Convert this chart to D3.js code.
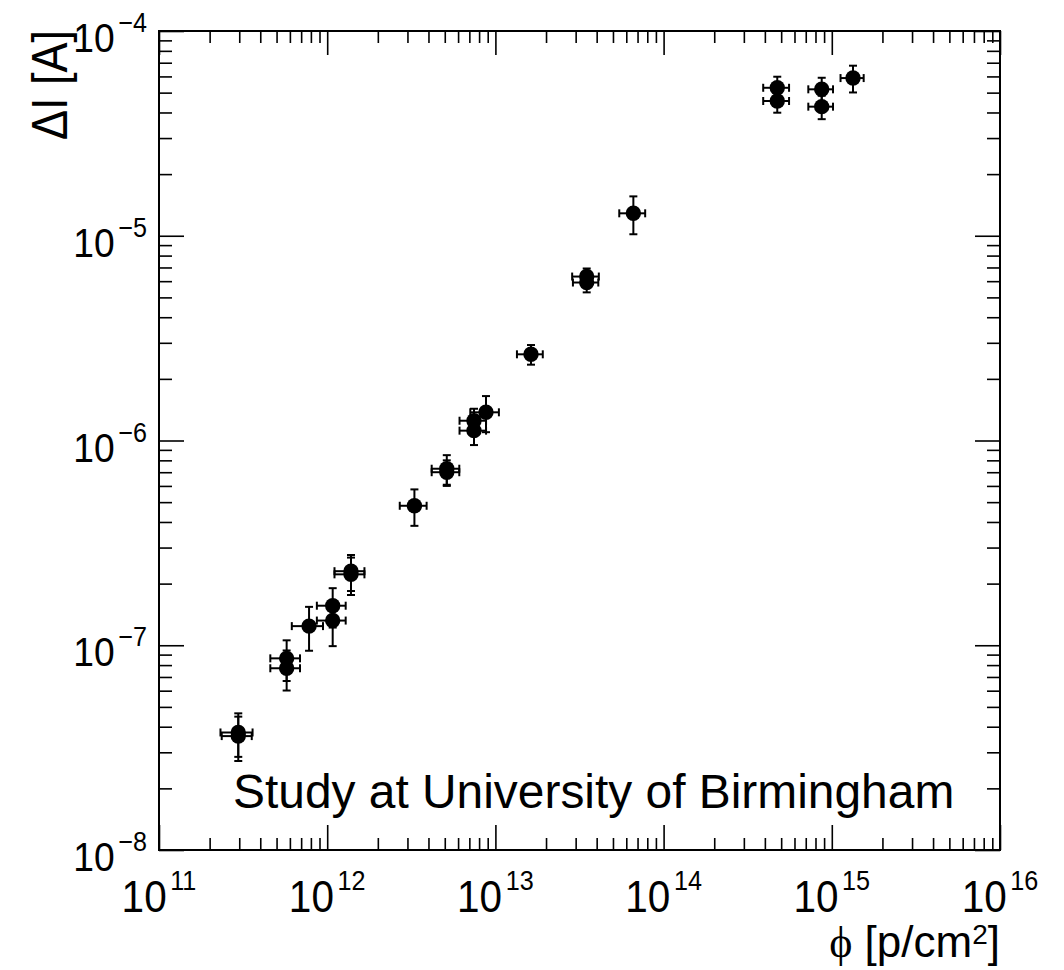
<!DOCTYPE html>
<html>
<head>
<meta charset="utf-8">
<script src="https://cdn.jsdelivr.net/npm/d3@7"></script>
<style>
  body { margin: 0; background: #fff; }
  svg { display: block; }
</style>
</head>
<body>
<svg id="chart" width="1064" height="970"></svg>
<script>
// Leakage current increase vs. proton fluence
const fluence    = [2.96e11, 2.96e11, 5.74e11, 5.74e11, 7.80e11, 1.078e12, 1.078e12, 1.385e12, 1.385e12,
                    3.30e12, 5.14e12, 5.14e12, 7.46e12, 7.46e12, 8.79e12, 1.628e13, 3.49e13, 3.49e13,
                    6.61e13, 4.74e14, 4.74e14, 8.71e14, 8.71e14, 1.337e15];
const fluenceErr = [0.64e11, 0.60e11, 1.15e11, 1.15e11, 1.64e11, 0.21e12, 0.21e12, 0.28e12, 0.28e12,
                    0.60e12, 0.96e12, 0.96e12, 1.34e12, 1.34e12, 1.70e12, 0.285e13, 0.63e13, 0.60e13,
                    1.16e13, 0.83e14, 0.83e14, 1.46e14, 1.46e14, 0.21e15];
const deltaI     = [3.75e-8, 3.60e-8, 8.63e-8, 7.72e-8, 1.24e-7, 1.56e-7, 1.32e-7, 2.30e-7, 2.22e-7,
                    4.80e-7, 7.28e-7, 7.00e-7, 1.249e-6, 1.117e-6, 1.373e-6, 2.636e-6, 6.32e-6, 5.91e-6,
                    1.287e-5, 5.28e-5, 4.55e-5, 5.19e-5, 4.27e-5, 5.89e-5];
const deltaIErr  = [0.90e-8, 0.88e-8, 1.94e-8, 1.71e-8, 0.30e-7, 0.34e-7, 0.33e-7, 0.46e-7, 0.46e-7,
                    0.97e-7, 1.20e-7, 1.00e-7, 0.18e-6, 0.167e-6, 0.275e-6, 0.29e-6, 0.60e-6, 0.62e-6,
                    0.27e-5, 0.70e-5, 0.56e-5, 0.72e-5, 0.56e-5, 0.88e-5];

const xDecades = [11, 12, 13, 14, 15, 16];
const yDecades = [-8, -7, -6, -5, -4];
const xTitle = ["\u03D5", " [p/cm", "2", "]"];
const yTitle = "\u0394I [A]";
const noteText = "Study at University of Birmingham";

const sans = "'Liberation Sans', Arial, Helvetica, sans-serif";
const serif = "'Liberation Serif', 'DejaVu Serif', serif";

const svg = d3.select("#chart");
const x = d3.scaleLog().domain([1e11, 1e16]).range([159, 1000]);
const y = d3.scaleLog().domain([1e-8, 1e-4]).range([850, 31]);

function minorTicks(decades) {
  const out = [];
  for (let i = 0; i < decades.length - 1; i++)
    for (let m = 2; m <= 9; m++) out.push(m * Math.pow(10, decades[i]));
  return out;
}
const xMajor = xDecades.map(e => Math.pow(10, e));
const yMajor = yDecades.map(e => Math.pow(10, e));
const xMinor = minorTicks(xDecades);
const yMinor = minorTicks(yDecades);

function addTicks(axisFn, scale, values, size, transform) {
  svg.append("g")
    .attr("transform", transform)
    .call(axisFn(scale).tickValues(values).tickSize(size).tickFormat(""))
    .call(g => g.select(".domain").remove())
    .call(g => g.selectAll("line").attr("stroke", "#000").attr("stroke-width", 1.6));
}
// ticks on all four sides, pointing inward
addTicks(d3.axisBottom, x, xMajor, -25, "translate(0,850)");
addTicks(d3.axisBottom, x, xMinor, -12, "translate(0,850)");
addTicks(d3.axisTop, x, xMajor, -24, "translate(0,31)");
addTicks(d3.axisTop, x, xMinor, -12, "translate(0,31)");
addTicks(d3.axisLeft, y, yMajor, -25, "translate(159,0)");
addTicks(d3.axisLeft, y, yMinor, -13, "translate(159,0)");
addTicks(d3.axisRight, y, yMajor, -25, "translate(1000,0)");
addTicks(d3.axisRight, y, yMinor, -13, "translate(1000,0)");

// frame
svg.append("rect")
  .attr("x", x.range()[0]).attr("y", y.range()[1])
  .attr("width", x.range()[1] - x.range()[0])
  .attr("height", y.range()[0] - y.range()[1])
  .attr("fill", "none").attr("stroke", "#000").attr("stroke-width", 2);

// y tick labels 10^n
yDecades.forEach(e => {
  const g = svg.append("g")
    .attr("transform", `translate(147,${y(Math.pow(10, e)) + 21}) scale(0.93,1)`);
  const t = g.append("text").attr("text-anchor", "end")
    .attr("font-family", sans).attr("font-size", 40).attr("fill", "#000");
  t.append("tspan").text("10");
  t.append("tspan").attr("font-size", 27).attr("dx", 4).attr("dy", -20)
    .text((e < 0 ? "\u2212" : "") + Math.abs(e));
});

// x tick labels 10^n
xDecades.forEach(e => {
  const g = svg.append("g")
    .attr("transform", `translate(${x(Math.pow(10, e))},912) scale(0.9,1)`);
  const t = g.append("text").attr("text-anchor", "middle")
    .attr("font-family", sans).attr("font-size", 45).attr("fill", "#000");
  t.append("tspan").text("10");
  t.append("tspan").attr("font-size", 28).attr("dx", 4).attr("dy", -22).text(e);
});

// axis titles
const xt = svg.append("text")
  .attr("x", 1000).attr("y", 957).attr("text-anchor", "end")
  .attr("font-family", sans).attr("font-size", 44).attr("fill", "#000");
xt.append("tspan").attr("font-family", serif).text(xTitle[0]);
xt.append("tspan").text(xTitle[1]);
xt.append("tspan").attr("font-size", 28).attr("dy", -13).text(xTitle[2]);
xt.append("tspan").attr("dy", 13).text(xTitle[3]);

svg.append("text")
  .attr("transform", "translate(67,30) rotate(-90)")
  .attr("text-anchor", "end")
  .attr("font-family", sans).attr("font-size", 50).attr("fill", "#000")
  .attr("textLength", 110).attr("lengthAdjust", "spacingAndGlyphs")
  .text(yTitle);

// note inside the frame
svg.append("text")
  .attr("x", 233).attr("y", 808)
  .attr("font-family", sans).attr("font-size", 47.9).attr("fill", "#000")
  .text(noteText);

// data points with error bars
const points = fluence.map((f, i) => ({
  x: f, ex: fluenceErr[i], y: deltaI[i], ey: deltaIErr[i]
}));
const cap = 4;
const pg = svg.append("g").attr("stroke", "#000").attr("stroke-width", 2);
points.forEach(p => {
  const cx = x(p.x), cy = y(p.y);
  const x0 = x(p.x - p.ex), x1 = x(p.x + p.ex);
  const y0 = y(p.y - p.ey), y1 = y(p.y + p.ey);
  pg.append("line").attr("x1", x0).attr("x2", x1).attr("y1", cy).attr("y2", cy);
  pg.append("line").attr("x1", x0).attr("x2", x0).attr("y1", cy - cap).attr("y2", cy + cap);
  pg.append("line").attr("x1", x1).attr("x2", x1).attr("y1", cy - cap).attr("y2", cy + cap);
  pg.append("line").attr("x1", cx).attr("x2", cx).attr("y1", y0).attr("y2", y1);
  pg.append("line").attr("x1", cx - cap).attr("x2", cx + cap).attr("y1", y0).attr("y2", y0);
  pg.append("line").attr("x1", cx - cap).attr("x2", cx + cap).attr("y1", y1).attr("y2", y1);
});
svg.append("g").selectAll("circle")
  .data(points)
  .join("circle")
  .attr("cx", d => x(d.x))
  .attr("cy", d => y(d.y))
  .attr("r", 7.7)
  .attr("fill", "#000");
</script>
</body>
</html>
